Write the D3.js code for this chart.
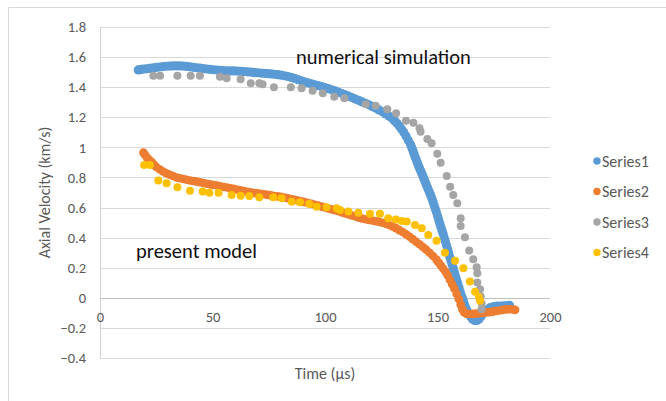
<!DOCTYPE html>
<html><head><meta charset="utf-8">
<script src="https://cdn.jsdelivr.net/npm/d3@7"></script>
<style>
html,body{margin:0;padding:0;background:#fff;}
svg{display:block;}
text{font-family:Calibri,Carlito,Lato,sans-serif;}
</style></head>
<body>
<script>
// ---- data ----
const seriesNames = ["Series1","Series2","Series3","Series4"];
const seriesColors = ["#5B9BD5","#ED7D31","#A5A5A5","#FFC000"];
const xTicks = [0,50,100,150,200];
const yTicks = [-0.4,-0.2,0,0.2,0.4,0.6,0.8,1,1.2,1.4,1.6,1.8];

// Series1 (numerical simulation, dense)
const s1t = [17,18,19,20.5,22,23.5,25,26.5,28,29.5,31,32.5,34,35.5,37,38.5,40,41.5,43,44.5,46,47.5,49,50.5,52,53.5,55,56.5,58,59.5,61,62.5,64,65.5,67,68.5,70,71.5,73,74.5,76,77.5,79,80.5,82,83.5,85,86.5,88,89.5,91,92.5,94,95.5,97,98.5,100,101.5,103,104.5,106,107.5,109,110.5,112,113.5,115,116.5,118,119.5,121,122.5,124,125.5,127,128.5,130,131,132,133,134,135,136,137,138,138.5,139,139.5,140,140.5,141,141.5,142,142.5,143,143.5,144,144.5,145,145.5,146,146.5,147,147.5,148,148.5,149,149.5,150,150.5,151,151.5,152,152.5,153,153.5,154,154.5,155,155.5,156,156.5,157,157.5,158,158.5,159,159.5,160,160.5,161,161.5,162,162.7,163.5,164.5,165.5,166.5,167.5,168.5,169.5,170.5,172,173.5,175,176.5,178,179.5,181,182];
const s1v = [1.515,1.517,1.52,1.522,1.525,1.528,1.531,1.534,1.537,1.539,1.54,1.541,1.541,1.541,1.54,1.538,1.535,1.532,1.529,1.526,1.523,1.521,1.518,1.516,1.514,1.512,1.51,1.509,1.508,1.508,1.507,1.506,1.504,1.502,1.5,1.498,1.496,1.494,1.492,1.49,1.488,1.486,1.483,1.48,1.476,1.471,1.465,1.458,1.45,1.442,1.435,1.428,1.422,1.416,1.41,1.404,1.398,1.39,1.383,1.375,1.367,1.358,1.349,1.34,1.331,1.321,1.312,1.302,1.293,1.283,1.272,1.261,1.249,1.236,1.222,1.207,1.19,1.176,1.16,1.142,1.122,1.1,1.075,1.048,1.02,1.0,0.98,0.96,0.94,0.92,0.9,0.88,0.862,0.845,0.827,0.81,0.79,0.772,0.754,0.735,0.716,0.698,0.68,0.66,0.638,0.615,0.592,0.57,0.545,0.52,0.495,0.47,0.447,0.425,0.4,0.375,0.35,0.325,0.298,0.27,0.245,0.22,0.195,0.17,0.145,0.12,0.095,0.07,0.045,0.02,0,-0.02,-0.045,-0.07,-0.095,-0.12,-0.14,-0.15,-0.15,-0.14,-0.12,-0.1,-0.08,-0.065,-0.058,-0.055,-0.055,-0.053,-0.052,-0.05,-0.04,-0.06,-0.07];

// Series2 (present model, dense)
const s2t = [19.3,20,21,22,23,24,25,26.5,28,29.5,31,32.5,34,35.5,37,38.5,40,41.5,43,44.5,46,47.5,49,50.5,52,53.5,55,56.5,58,59.5,61,62.5,64,65.5,67,68.5,70,71.5,73,74.5,76,77.5,79,80.5,82,83.5,85,86.5,88,89.5,91,92.5,94,95.5,97,98.5,100,101.5,103,104.5,106,107.5,109,110.5,112,113.5,115,116.5,118,119.5,121,122.5,124,125.5,127,128.5,130,131.5,133,134.5,136,137.5,139,140.5,142,143.5,145,146.5,148,149.5,150.5,151.5,152.5,153.5,154.5,155.5,156.5,157.5,158.5,159.5,160.3,161,161.8,162.8,164,165.5,167,168.5,170,171.5,173,174.5,176,177.5,179,180.5,182,183.5,184.5];
const s2v = [0.965,0.95,0.93,0.915,0.9,0.885,0.87,0.855,0.84,0.828,0.818,0.81,0.8,0.795,0.79,0.785,0.78,0.776,0.772,0.768,0.763,0.758,0.754,0.75,0.746,0.742,0.737,0.733,0.728,0.724,0.718,0.714,0.709,0.705,0.701,0.697,0.694,0.691,0.688,0.684,0.681,0.677,0.674,0.671,0.667,0.662,0.657,0.652,0.647,0.641,0.636,0.63,0.625,0.619,0.613,0.606,0.6,0.594,0.588,0.582,0.575,0.568,0.561,0.554,0.547,0.54,0.533,0.527,0.522,0.518,0.514,0.51,0.505,0.499,0.492,0.484,0.474,0.463,0.45,0.437,0.422,0.407,0.39,0.373,0.356,0.338,0.32,0.3,0.278,0.254,0.235,0.215,0.195,0.175,0.15,0.12,0.09,0.06,0.025,-0.01,-0.045,-0.075,-0.095,-0.105,-0.108,-0.107,-0.105,-0.103,-0.1,-0.097,-0.095,-0.092,-0.088,-0.084,-0.08,-0.077,-0.076,-0.078,-0.08];

// Series3 (numerical simulation, sparse)
const s3t = [23.7,26.7,34.4,40.3,44.4,53.3,56.3,62.5,67.0,70.8,72.3,77.3,84.8,89.6,94.5,99.0,104.1,108.6,118.1,122.5,127.7,131.6,136.0,139.3,142.0,142.5,145.5,147.4,149.9,151.4,154.1,155.6,157.0,158.8,160.3,160.3,162.2,164.1,165.9,167.4,167.7,167.7,168.9,169.2,169.6,169.6];
const s3v = [1.476,1.476,1.476,1.476,1.476,1.47,1.459,1.452,1.426,1.426,1.419,1.399,1.399,1.393,1.377,1.36,1.337,1.326,1.286,1.277,1.253,1.227,1.177,1.164,1.127,1.104,1.056,1.027,0.958,0.898,0.81,0.739,0.684,0.629,0.529,0.478,0.403,0.314,0.256,0.203,0.163,0.101,0.057,0.008,-0.036,-0.076];

// Series4 (present model, sparse)
const s4t = [19.6,22.2,25.9,29.6,34.4,40,45.6,48.6,52.7,58.5,62.5,66.4,70.8,77,80.7,85.2,88.9,93,96.3,100.7,105.2,106.7,110.4,114.8,120,124.4,128.1,131.5,134,136.3,140,143,145.9,149.6,153.3,157.8,161.5,164.4,166.7,168.4,168.9];
const s4v = [0.883,0.883,0.779,0.761,0.735,0.712,0.706,0.699,0.699,0.684,0.679,0.677,0.668,0.668,0.662,0.639,0.635,0.624,0.606,0.602,0.595,0.584,0.573,0.566,0.558,0.558,0.529,0.52,0.51,0.507,0.484,0.462,0.418,0.38,0.3,0.247,0.197,0.108,0.041,0.005,-0.02];

const series = [[s1t,s1v],[s2t,s2v],[s3t,s3v],[s4t,s4v]];
const seriesRadius = [4.6,4.3,4,4];

// ---- drawing ----
const W = 666, H = 401;
const svg = d3.select("body").append("svg").attr("width",W).attr("height",H);

const x = d3.scaleLinear().domain([0,200]).range([100,550]);
const y = d3.scaleLinear().domain([-0.4,1.8]).range([358,27]);

// chart area border
svg.append("path").attr("d",`M8.5,${H+5} V7.5 H${W+5}`).attr("fill","none").attr("stroke","#d9d9d9");

// gridlines
svg.append("g").selectAll("line").data(yTicks).join("line")
  .attr("x1",x(0)).attr("x2",x(200))
  .attr("y1",d=>Math.round(y(d))+0.5).attr("y2",d=>Math.round(y(d))+0.5)
  .attr("stroke",d=>d===0?"#bfbfbf":"#d9d9d9").attr("stroke-width",1);

// vertical axis line
svg.append("line").attr("x1",x(0)+0.5).attr("x2",x(0)+0.5).attr("y1",y(1.8)).attr("y2",y(-0.4))
  .attr("stroke","#d0d0d0");

// y tick labels
const yAxis = d3.axisLeft(y).tickValues(yTicks).tickSize(0).tickPadding(14)
  .tickFormat(d=>d3.format("")(+d.toFixed(1)));
const gy = svg.append("g").attr("transform",`translate(${x(0)},0)`).call(yAxis);
gy.select(".domain").remove();
gy.selectAll("text").attr("fill","#595959").style("font-size","14.5px");

// x tick labels (next to axis at y=0)
const xAxis = d3.axisBottom(x).tickValues(xTicks).tickSize(0).tickPadding(14);
const gx = svg.append("g").attr("transform",`translate(0,${y(0)})`).call(xAxis);
gx.select(".domain").remove();
gx.selectAll("text").attr("fill","#595959").style("font-size","14.5px");

// points
series.forEach((s,i)=>{
  const pts = s[0].map((t,j)=>[t,s[1][j]]);
  svg.append("g").selectAll("circle").data(pts).join("circle")
    .attr("cx",d=>x(d[0])).attr("cy",d=>y(d[1])).attr("r",seriesRadius[i])
    .attr("fill",seriesColors[i]);
});

// annotations
svg.append("text").attr("x",296).attr("y",64).attr("fill","#111")
  .style("font-size","20.5px").text("numerical simulation");
svg.append("text").attr("x",136).attr("y",258).attr("fill","#111")
  .style("font-size","20.5px").text("present model");

// axis titles
svg.append("text").attr("transform",`translate(50,${(y(1.8)+y(-0.4))/2}) rotate(-90)`)
  .attr("text-anchor","middle").attr("fill","#595959").style("font-size","16px")
  .text("Axial Velocity (km/s)");
svg.append("text").attr("x",(x(0)+x(200))/2).attr("y",379)
  .attr("text-anchor","middle").attr("fill","#595959").style("font-size","16px")
  .text("Time (µs)");

// legend
const lg = svg.append("g");
seriesNames.forEach((n,i)=>{
  const cy = 161 + i*30.5;
  lg.append("circle").attr("cx",597).attr("cy",cy).attr("r",3.7).attr("fill",seriesColors[i]);
  lg.append("text").attr("x",602).attr("y",cy).attr("dy","0.35em").attr("fill","#595959")
    .style("font-size","16px").text(n);
});
</script>
</body></html>
